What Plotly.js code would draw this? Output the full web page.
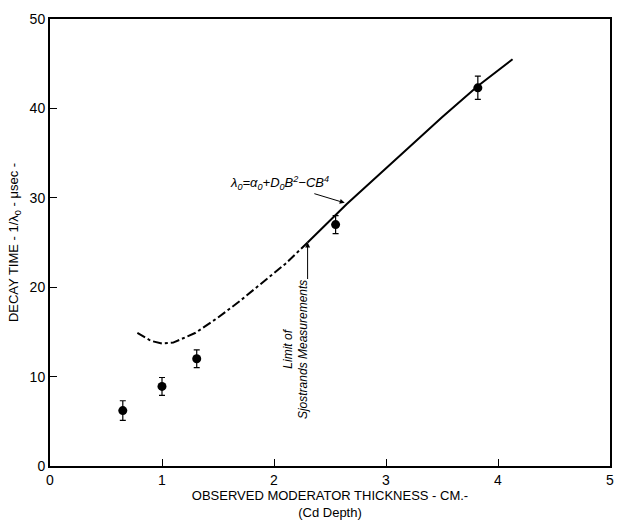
<!DOCTYPE html>
<html>
<head>
<meta charset="utf-8">
<script src="https://cdn.plot.ly/plotly-3.0.1.min.js"></script>
<style>html,body{margin:0;padding:0;background:#fff;}#chart{width:618px;height:520px;}</style>
</head>
<body>
<div id="chart"></div>
<script>
// Measured decay times (points with error bars)
const thickness = [0.65, 1.0, 1.31, 2.55, 3.82];
const decayTime = [6.2, 8.9, 12.0, 27.0, 42.3];
const decayErr = [1.1, 1.0, 1.0, 1.0, 1.3];

// Theoretical curve: dash-dot part (beyond Sjostrand's measurements)
const curveDashX = [0.78, 0.9, 1.0, 1.1, 1.3, 1.5, 1.7, 1.9, 2.1, 2.3];
const curveDashY = [14.9, 14.0, 13.7, 13.8, 14.9, 16.6, 18.5, 20.5, 22.6, 25.0];
// Solid part
const curveSolidX = [2.3, 2.65, 3.15, 3.5, 3.82, 4.13];
const curveSolidY = [25.0, 29.3, 35.0, 39.0, 42.5, 45.5];

const xTicks = [0, 1, 2, 3, 4, 5];
const yTicks = [0, 10, 20, 30, 40, 50];

const font = "Liberation Sans, Arial, sans-serif";

const traces = [
  {x: curveDashX, y: curveDashY, mode: 'lines', line: {color: '#000', width: 2, dash: 'dashdot'}, hoverinfo: 'skip'},
  {x: curveSolidX, y: curveSolidY, mode: 'lines', line: {color: '#000', width: 2}, hoverinfo: 'skip'},
  {x: thickness, y: decayTime, mode: 'markers',
   marker: {color: '#000', size: 9, symbol: 'circle'},
   error_y: {type: 'data', array: decayErr, visible: true, color: '#000', thickness: 1.2, width: 3}}
];

const layout = {
  width: 618, height: 520,
  margin: {l: 50, r: 8, t: 19, b: 54},
  paper_bgcolor: '#fff', plot_bgcolor: '#fff',
  showlegend: false,
  font: {family: font, color: '#000', size: 14},
  xaxis: {
    range: [0, 5], tickvals: xTicks, ticktext: xTicks.map(String),
    ticks: 'inside', ticklen: 7, tickwidth: 1, tickcolor: '#000',
    showline: true, linecolor: '#000', linewidth: 2, mirror: true,
    showgrid: false, zeroline: false,
    tickfont: {family: font, size: 14},
    title: {text: 'OBSERVED MODERATOR THICKNESS - CM.-<br>(Cd Depth)', font: {family: font, size: 13}, standoff: 4}
  },
  yaxis: {
    range: [0, 50], tickvals: yTicks, ticktext: yTicks.map(String),
    ticks: 'inside', ticklen: 7, tickwidth: 1, tickcolor: '#000',
    showline: true, linecolor: '#000', linewidth: 2, mirror: true,
    showgrid: false, zeroline: false,
    tickfont: {family: font, size: 14},
    title: {text: 'DECAY TIME - 1/λ<sub>0</sub> - μsec -', font: {family: font, size: 13}, standoff: 8}
  },
  annotations: [
    {x: 2.64, y: 29.4, xref: 'x', yref: 'y',
     text: '<i>λ<sub>0</sub>=α<sub>0</sub>+D<sub>0</sub>B<sup>2</sup>−CB<sup>4</sup></i>',
     font: {family: font, size: 13, color: '#000'},
     showarrow: true, ax: -66, ay: -20, arrowhead: 2, arrowsize: 1, arrowwidth: 1, arrowcolor: '#000', standoff: 1},
    {x: 2.30, y: 25.0, xref: 'x', yref: 'y', text: '',
     showarrow: true, ax: 0, ay: 38, arrowhead: 2, arrowsize: 1, arrowwidth: 1, arrowcolor: '#000'},
    {x: 2.19, y: 13.0, xref: 'x', yref: 'y',
     text: '<i>Limit of<br>Sjostrands Measurements</i>', textangle: -90,
     font: {family: font, size: 12, color: '#000'}, showarrow: false, align: 'center'}
  ]
};

Plotly.newPlot('chart', traces, layout, {displayModeBar: false, staticPlot: true});
</script>
</body>
</html>
